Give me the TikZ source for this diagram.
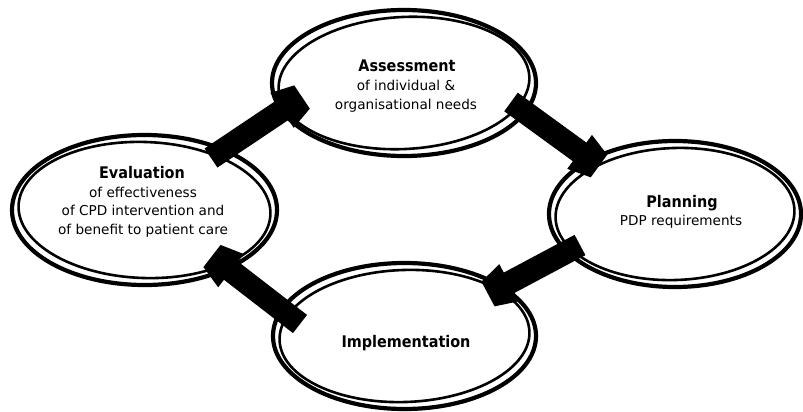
\documentclass[tikz,border=0pt]{standalone}
\usepackage{fontspec}
\setmainfont{DejaVu Sans}
\newfontfamily\titlefont{DejaVu Sans Condensed}
\usetikzlibrary{shapes.geometric,calc}
\newcommand\bigarrow[2]{%
  \path ($(#2)!24pt!(#1)$) coordinate (hb);
  \fill[black] ($(#1)!11.5pt!90:(#2)$) -- ($(hb)!11.5pt!90:(#2)$) -- ($(hb)!21pt!90:(#2)$)
    -- ($(#2)!14pt!-90:(#1)$) -- ($(#2)!14pt!90:(#1)$)
    -- ($(hb)!21pt!-90:(#2)$) -- ($(hb)!11.5pt!-90:(#2)$) -- ($(#1)!11.5pt!-90:(#2)$) -- cycle;}
\begin{document}
\begin{tikzpicture}[x=1pt,y=-1pt,
  outerell/.style={ellipse, draw=black, line width=4.2pt, inner sep=0pt, fill=white},
  innerell/.style={draw=black, line width=2.6pt},
  title/.style={font=\titlefont\bfseries\fontsize{16}{19}\selectfont, anchor=base, inner sep=0pt},
  body/.style={font=\fontsize{13.6}{19}\selectfont, anchor=base, inner sep=0pt}]
\useasboundingbox (0,0) rectangle (803,412);
% ellipses
\node[outerell, minimum width=264, minimum height=146] (assess) at (404,83) {};
\draw[innerell, rotate around={3:(assess.center)}] (assess.center) ellipse [x radius=125.5, y radius=66];
\node[outerell, minimum width=265, minimum height=150] (eval) at (144.5,210) {};
\draw[innerell, rotate around={-2:(eval.center)}] (eval.center) ellipse [x radius=126, y radius=68];
\node[outerell, minimum width=252, minimum height=146] (plan) at (675,214) {};
\draw[innerell, rotate around={2:(plan.center)}] (plan.center) ellipse [x radius=119.5, y radius=66];
\node[outerell, minimum width=263, minimum height=146] (impl) at (404.5,336) {};
\draw[innerell, rotate around={2:(impl.center)}] (impl.center) ellipse [x radius=125, y radius=66];
% texts
\node[title] (assessT) at (407,72) {Assessment};
\node[body] (assess1) at (406,91) {of individual \&};
\node[body] (assess2) at (406,110) {organisational needs};
\node[title] (evalT) at (142,178) {Evaluation};
\node[body] (eval1) at (143,197) {of effectiveness};
\node[body] (eval2) at (143,215.5) {of CPD intervention and};
\node[body] (eval3) at (143,234) {of benefit to patient care};
\node[title] (planT) at (682,207) {Planning};
\node[body] (plan1) at (681,225) {PDP requirements};
\node[title] (implT) at (406,347) {Implementation};
% arrows
\coordinate (a1s) at (211,158); \coordinate (a1e) at (302,97);
\coordinate (a2s) at (511,102); \coordinate (a2e) at (599,166);
\coordinate (a3s) at (580,245); \coordinate (a3e) at (488,294);
\coordinate (a4s) at (300,324); \coordinate (a4e) at (212,256);
\bigarrow{a1s}{a1e}
\bigarrow{a2s}{a2e}
\bigarrow{a3s}{a3e}
\bigarrow{a4s}{a4e}
\end{tikzpicture}
\end{document}
